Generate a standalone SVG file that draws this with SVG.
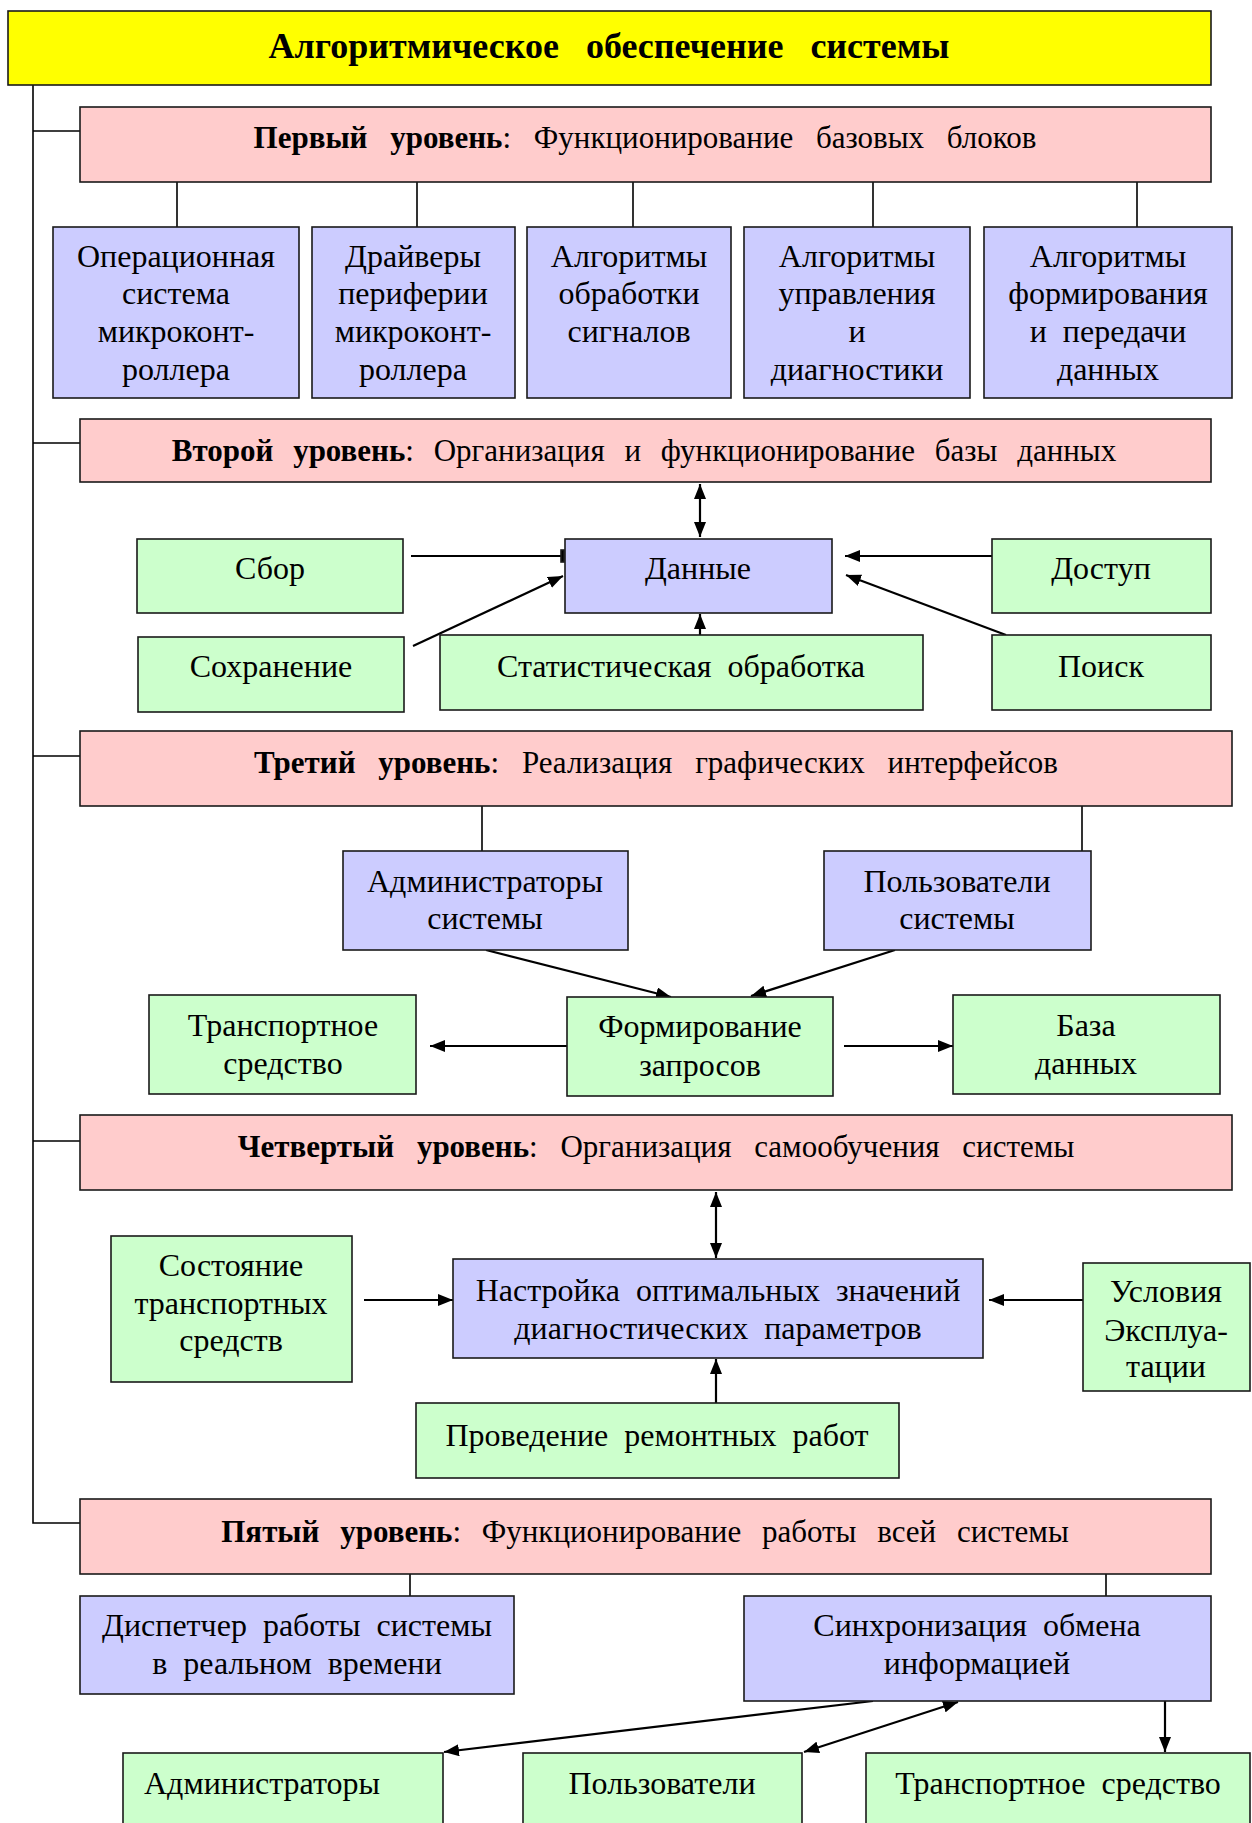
<svg xmlns="http://www.w3.org/2000/svg" width="1252" height="1823" viewBox="0 0 1252 1823">
<style>
rect{stroke:#1a1a1a;stroke-width:1.6}
.y{fill:#ffff00}.p{fill:#ffcccc}.b{fill:#ccccff}.g{fill:#ccffcc}
text{font-family:"Liberation Serif","Times New Roman",serif;font-size:32px;word-spacing:8px;text-anchor:middle;fill:#000}
.h{font-size:31px;word-spacing:15px}
.t{font-size:36px;font-weight:bold;word-spacing:18px}
.bd{font-weight:bold}
.ln{stroke:#000;stroke-width:1.6;fill:none}
.ar{stroke:#000;stroke-width:2.2;fill:none}
</style>
<defs>
<marker id="a" markerUnits="userSpaceOnUse" markerWidth="16" markerHeight="12" refX="15" refY="6" orient="auto-start-reverse">
<path d="M0,0 L15,6 L0,12 z" fill="#000"/>
</marker>
</defs>
<g id="connectors">
<path class="ln" d="M33,85 V1523 H80 M33,131 H80 M33,443 H80 M33,756 H80 M33,1141 H80"/>
<path class="ln" d="M177,182 V227 M417,182 V227 M633,182 V227 M873,182 V227 M1137,182 V227"/>
<path class="ar" d="M700,484 V537" marker-start="url(#a)" marker-end="url(#a)"/>
<path class="ar" d="M411,556 H563"/>
<rect x="561" y="550" width="3" height="12" fill="#000" stroke="none"/>
<path class="ar" d="M413,646 L563,576" marker-end="url(#a)"/>
<path class="ar" d="M992,556 H845" marker-end="url(#a)"/>
<path class="ar" d="M1006,635 L846,575" marker-end="url(#a)"/>
<path class="ar" d="M700,635 V614" marker-end="url(#a)"/>
<path class="ln" d="M482,806 V851 M1082,806 V851"/>
<path class="ar" d="M486,950 L671,997" marker-end="url(#a)"/>
<path class="ar" d="M895,950 L751,996" marker-end="url(#a)"/>
<path class="ar" d="M567,1046 H430" marker-end="url(#a)"/>
<path class="ar" d="M844,1046 H953" marker-end="url(#a)"/>
<path class="ar" d="M716,1192 V1258" marker-start="url(#a)" marker-end="url(#a)"/>
<path class="ar" d="M364,1300 H453" marker-end="url(#a)"/>
<path class="ar" d="M1083,1300 H989" marker-end="url(#a)"/>
<path class="ar" d="M716,1403 V1359" marker-end="url(#a)"/>
<path class="ln" d="M410,1574 V1596 M1106,1574 V1596"/>
<path class="ar" d="M873,1701 L444,1752" marker-end="url(#a)"/>
<path class="ar" d="M958,1702 L804,1752" marker-start="url(#a)" marker-end="url(#a)"/>
<path class="ar" d="M1165,1701 V1752" marker-end="url(#a)"/>
</g>
<g id="title"><rect class="y" x="8" y="11" width="1203" height="74"/><text class="t" x="609" y="58">Алгоритмическое обеспечение системы</text></g>
<g id="level1"><rect class="p" x="80" y="107" width="1131" height="75"/><text class="h" x="645" y="148"><tspan class="bd">Первый уровень</tspan>: Функционирование базовых блоков</text></g>
<g id="os"><rect class="b" x="53" y="227" width="246" height="171"/><text x="176" y="267">Операционная</text><text x="176" y="304">система</text><text x="176" y="342">микроконт-</text><text x="176" y="380">роллера</text></g>
<g id="drivers"><rect class="b" x="312" y="227" width="203" height="171"/><text x="413" y="267">Драйверы</text><text x="413" y="304">периферии</text><text x="413" y="342">микроконт-</text><text x="413" y="380">роллера</text></g>
<g id="signals"><rect class="b" x="527" y="227" width="204" height="171"/><text x="629" y="267">Алгоритмы</text><text x="629" y="304">обработки</text><text x="629" y="342">сигналов</text></g>
<g id="control"><rect class="b" x="744" y="227" width="226" height="171"/><text x="857" y="267">Алгоритмы</text><text x="857" y="304">управления</text><text x="857" y="342">и</text><text x="857" y="380">диагностики</text></g>
<g id="transfer"><rect class="b" x="984" y="227" width="248" height="171"/><text x="1108" y="267">Алгоритмы</text><text x="1108" y="304">формирования</text><text x="1108" y="342">и передачи</text><text x="1108" y="380">данных</text></g>
<g id="level2"><rect class="p" x="80" y="419" width="1131" height="63"/><text class="h" x="644" y="461" style="word-spacing:12px"><tspan class="bd">Второй уровень</tspan>: Организация и функционирование базы данных</text></g>
<g id="data"><rect class="b" x="565" y="539" width="267" height="74"/><text x="698" y="579">Данные</text></g>
<g id="collect"><rect class="g" x="137" y="539" width="266" height="74"/><text x="270" y="579">Сбор</text></g>
<g id="save"><rect class="g" x="138" y="637" width="266" height="75"/><text x="271" y="677">Сохранение</text></g>
<g id="stat"><rect class="g" x="440" y="635" width="483" height="75"/><text x="681" y="677">Статистическая обработка</text></g>
<g id="access"><rect class="g" x="992" y="539" width="219" height="74"/><text x="1101" y="579">Доступ</text></g>
<g id="search"><rect class="g" x="992" y="635" width="219" height="75"/><text x="1101" y="677">Поиск</text></g>
<g id="level3"><rect class="p" x="80" y="731" width="1152" height="75"/><text class="h" x="656" y="773"><tspan class="bd">Третий уровень</tspan>: Реализация графических интерфейсов</text></g>
<g id="admins"><rect class="b" x="343" y="851" width="285" height="99"/><text x="485" y="892">Администраторы</text><text x="485" y="929">системы</text></g>
<g id="users"><rect class="b" x="824" y="851" width="267" height="99"/><text x="957" y="892">Пользователи</text><text x="957" y="929">системы</text></g>
<g id="vehicle"><rect class="g" x="149" y="995" width="267" height="99"/><text x="283" y="1036">Транспортное</text><text x="283" y="1074">средство</text></g>
<g id="queries"><rect class="g" x="567" y="997" width="266" height="99"/><text x="700" y="1037">Формирование</text><text x="700" y="1076">запросов</text></g>
<g id="db"><rect class="g" x="953" y="995" width="267" height="99"/><text x="1086" y="1036">База</text><text x="1086" y="1074">данных</text></g>
<g id="level4"><rect class="p" x="80" y="1115" width="1152" height="75"/><text class="h" x="656" y="1157"><tspan class="bd">Четвертый уровень</tspan>: Организация самообучения системы</text></g>
<g id="tuning"><rect class="b" x="453" y="1259" width="530" height="99"/><text x="718" y="1301">Настройка оптимальных значений</text><text x="718" y="1339">диагностических параметров</text></g>
<g id="state"><rect class="g" x="111" y="1236" width="241" height="146"/><text x="231" y="1276">Состояние</text><text x="231" y="1314">транспортных</text><text x="231" y="1351">средств</text></g>
<g id="conditions"><rect class="g" x="1083" y="1263" width="167" height="128"/><text x="1166" y="1302">Условия</text><text x="1166" y="1341">Эксплуа-</text><text x="1166" y="1377">тации</text></g>
<g id="repair"><rect class="g" x="416" y="1403" width="483" height="75"/><text x="657" y="1446">Проведение ремонтных работ</text></g>
<g id="level5"><rect class="p" x="80" y="1499" width="1131" height="75"/><text class="h" x="645" y="1542" style="word-spacing:13px"><tspan class="bd">Пятый уровень</tspan>: Функционирование работы всей системы</text></g>
<g id="dispatcher"><rect class="b" x="80" y="1596" width="434" height="98"/><text x="297" y="1636">Диспетчер работы системы</text><text x="297" y="1674">в реальном времени</text></g>
<g id="sync"><rect class="b" x="744" y="1596" width="467" height="105"/><text x="977" y="1636">Синхронизация обмена</text><text x="977" y="1674">информацией</text></g>
<g id="admins2"><rect class="g" x="123" y="1753" width="320" height="90"/><text x="262" y="1794">Администраторы</text></g>
<g id="users2"><rect class="g" x="523" y="1753" width="279" height="90"/><text x="662" y="1794">Пользователи</text></g>
<g id="vehicle2"><rect class="g" x="866" y="1753" width="384" height="90"/><text x="1058" y="1794">Транспортное средство</text></g>
</svg>
